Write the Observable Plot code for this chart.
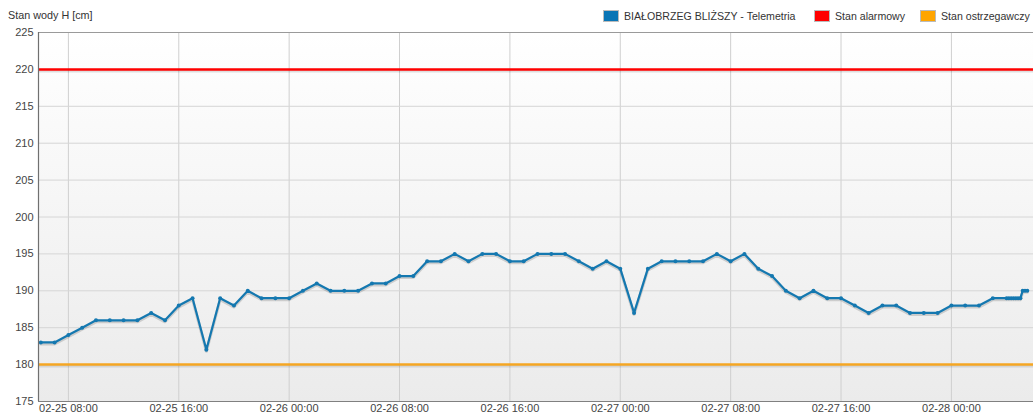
<!DOCTYPE html>
<html><head><meta charset="utf-8">
<script src="https://cdn.jsdelivr.net/npm/d3@7"></script>
<script src="https://cdn.jsdelivr.net/npm/@observablehq/plot@0.6"></script>
<style>
body{margin:0;background:#fff;font-family:"Liberation Sans",Arial,sans-serif;}
#wrap{position:relative;width:1033px;height:419px;overflow:hidden}
#head{position:relative;height:26px;font-size:11px;color:#333}
#ytitle{position:absolute;left:8px;top:9px;font-size:10.8px;color:#333}
.lg{position:absolute;top:10px;display:flex;align-items:center;font-size:10.6px;color:#333;white-space:nowrap}
.sw{display:inline-block;width:16px;height:12px;border:1px solid #bbb;margin-right:5px;box-sizing:border-box}
</style></head>
<body><div id="wrap">
<div id="head"><div id="ytitle">Stan wody H [cm]</div><div id="legend"></div></div>
<div id="chart"></div>
</div>
<script>
const seriesName = "BIAŁOBRZEG BLIŻSZY - Telemetria";
const alarmName = "Stan alarmowy";
const warnName = "Stan ostrzegawczy";
const alarmLevel = 220;
const warnLevel = 180;
const times = [
"02-25 06:00","02-25 07:00","02-25 08:00","02-25 09:00","02-25 10:00","02-25 11:00","02-25 12:00","02-25 13:00",
"02-25 14:00","02-25 15:00","02-25 16:00","02-25 17:00","02-25 18:00","02-25 19:00","02-25 20:00","02-25 21:00",
"02-25 22:00","02-25 23:00","02-26 00:00","02-26 01:00","02-26 02:00","02-26 03:00","02-26 04:00","02-26 05:00",
"02-26 06:00","02-26 07:00","02-26 08:00","02-26 09:00","02-26 10:00","02-26 11:00","02-26 12:00","02-26 13:00",
"02-26 14:00","02-26 15:00","02-26 16:00","02-26 17:00","02-26 18:00","02-26 19:00","02-26 20:00","02-26 21:00",
"02-26 22:00","02-26 23:00","02-27 00:00","02-27 01:00","02-27 02:00","02-27 03:00","02-27 04:00","02-27 05:00",
"02-27 06:00","02-27 07:00","02-27 08:00","02-27 09:00","02-27 10:00","02-27 11:00","02-27 12:00","02-27 13:00",
"02-27 14:00","02-27 15:00","02-27 16:00","02-27 17:00","02-27 18:00","02-27 19:00","02-27 20:00","02-27 21:00",
"02-27 22:00","02-27 23:00","02-28 00:00","02-28 01:00","02-28 02:00","02-28 03:00","02-28 04:00","02-28 04:10",
"02-28 04:20","02-28 04:30","02-28 04:40","02-28 04:50","02-28 05:00","02-28 05:10","02-28 05:20","02-28 05:30"
];
const levels = [
183,183,184,185,186,186,186,186,
187,186,188,189,182,189,188,190,
189,189,189,190,191,190,190,190,
191,191,192,192,194,194,195,194,
195,195,194,194,195,195,195,194,
193,194,193,187,193,194,194,194,
194,195,194,195,193,192,190,189,
190,189,189,188,187,188,188,187,
187,187,188,188,188,189,189,189,
189,189,189,189,189,190,190,190
];
const xTickLabels = ["02-25 08:00","02-25 16:00","02-26 00:00","02-26 08:00","02-26 16:00","02-27 00:00","02-27 08:00","02-27 16:00","02-28 00:00"];
const xStart = "02-25 05:50", xEnd = "02-28 05:57";
const yTicks = [175,180,185,190,195,200,205,210,215,220,225];

const parse = s => { const [md, hm] = s.split(" "); const [mo, d] = md.split("-").map(Number); const [h, m] = hm.split(":").map(Number); return new Date(Date.UTC(2024, mo - 1, d, h, m)); };
const data = times.map((t, i) => ({t: parse(t), v: levels[i]}));
const xTicks = xTickLabels.map(parse);
const fmt = d3.utcFormat("%m-%d %H:%M");
const x0 = parse(xStart), x1 = parse(xEnd);

const legend = document.getElementById("legend");
[[seriesName, "#0a75b5", 603], [alarmName, "#ff0000", 814], [warnName, "#ffa500", 920]].forEach(([n, c, left]) => {
  const d = document.createElement("div"); d.className = "lg"; d.style.left = left + "px";
  d.innerHTML = `<span class="sw" style="background:${c}"></span><span>${n}</span>`;
  legend.appendChild(d);
});

const chart = Plot.plot({
  width: 1033, height: 393,
  marginTop: 6, marginBottom: 18, marginLeft: 38, marginRight: 0,
  style: {fontFamily: "Liberation Sans, Arial, sans-serif", fontSize: "11px", color: "#444", background: "transparent"},
  x: {type: "utc", domain: [x0, x1], label: null},
  y: {domain: [175, 225], label: null},
  marks: [
    Plot.frame({fill: "url(#bgGrad)", stroke: "none"}),
    Plot.gridX(xTicks, {stroke: "#cfcfcf", strokeOpacity: 1}),
    Plot.gridY(yTicks.slice(1, -1), {stroke: "#d6d6d6", strokeOpacity: 1}),
    Plot.ruleY([225], {stroke: "#9a9a9a", strokeWidth: 1}),
    Plot.ruleY([alarmLevel], {stroke: "#000", strokeOpacity: 0.12, strokeWidth: 3, dy: 1.5}),
    Plot.ruleY([alarmLevel], {stroke: "#ff0000", strokeWidth: 2.5}),
    Plot.ruleY([warnLevel], {stroke: "#000", strokeOpacity: 0.1, strokeWidth: 3, dy: 1.5}),
    Plot.ruleY([warnLevel], {stroke: "#f5a623", strokeWidth: 2.5}),
    Plot.line(data, {x: "t", y: "v", stroke: "#000", strokeOpacity: 0.15, strokeWidth: 3, dy: 1.5}),
    Plot.line(data, {x: "t", y: "v", stroke: "#1478b0", strokeWidth: 2.2}),
    Plot.dot(data, {x: "t", y: "v", r: 2, fill: "#1478b0", stroke: "none"}),
    Plot.ruleX([x0], {stroke: "#707070", strokeWidth: 1.2}),
    Plot.ruleY([175], {stroke: "#808080", strokeWidth: 1.2}),
    Plot.axisX(xTicks, {tickSize: 0, tickPadding: 3, tickFormat: fmt, fill: "#444", label: null}),
    Plot.axisY(yTicks, {tickSize: 0, tickPadding: 5, fill: "#444", label: null})
  ]
});
d3.select(chart).insert("defs", ":first-child").html(
  '<linearGradient id="bgGrad" x1="0" y1="0" x2="0" y2="1"><stop offset="0" stop-color="#ffffff"/><stop offset="1" stop-color="#ebebeb"/></linearGradient>'
);
document.getElementById("chart").appendChild(chart);
</script>
</body></html>
